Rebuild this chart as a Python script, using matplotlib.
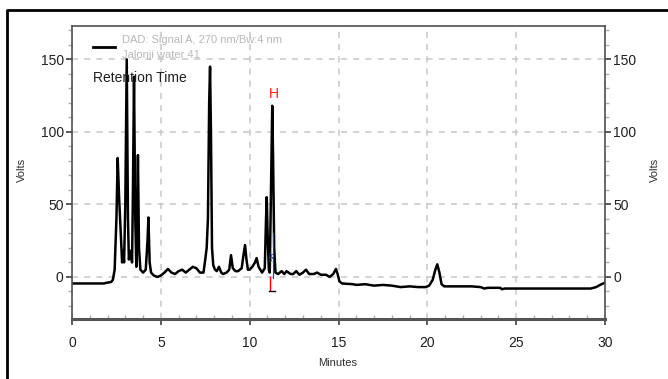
#!/usr/bin/env python
"""
HPLC chromatogram (DAD signal A, 270 nm) redrawn with matplotlib.
"""
import matplotlib
matplotlib.use('Agg')
import matplotlib.pyplot as plt
from matplotlib.lines import Line2D
from matplotlib.ticker import MultipleLocator

plt.rcParams['font.family'] = ['Liberation Sans', 'DejaVu Sans']

# Chromatogram trace (minutes, volts)
minutes = [0.0, 1.8, 1.95, 2.2, 2.3, 2.4, 2.5, 2.57, 2.65, 2.75, 2.82, 2.88,
           2.93, 3.0, 3.08, 3.15, 3.2, 3.3, 3.38, 3.43, 3.49, 3.56, 3.62,
           3.66, 3.71, 3.77, 3.85, 4.0, 4.15, 4.25, 4.3, 4.37, 4.45, 4.6,
           4.8, 5.0, 5.2, 5.4, 5.6, 5.8, 6.0, 6.2, 6.4, 6.6, 6.8, 7.0, 7.2,
           7.4, 7.5, 7.58, 7.65, 7.72, 7.77, 7.82, 7.88, 7.95, 8.05, 8.15,
           8.27, 8.4, 8.5, 8.7, 8.85, 8.95, 9.05, 9.2, 9.35, 9.55, 9.65, 9.74,
           9.82, 9.9, 10.0, 10.15, 10.3, 10.39, 10.5, 10.7, 10.85, 10.92,
           10.96, 11.02, 11.08, 11.13, 11.2, 11.27, 11.32, 11.38, 11.45, 11.6,
           11.8, 11.95, 12.08, 12.3, 12.45, 12.62, 12.8, 13.0, 13.17, 13.35,
           13.6, 13.8, 14.0, 14.3, 14.5, 14.7, 14.86, 14.95, 15.05, 15.2,
           15.8, 16.0, 16.5, 17.0, 17.5, 18.0, 18.5, 19.0, 19.5, 19.9, 20.1,
           20.3, 20.45, 20.56, 20.68, 20.8, 20.95, 21.5, 22.5, 23.0, 23.2,
           23.4, 24.1, 24.2, 24.35, 25.0, 26.0, 27.0, 28.0, 29.2, 29.5, 29.8,
           30.0]
volts = [-4.5, -4.5, -4, -3.5, -2, 5, 40, 82, 55, 28, 10, 18,
         10, 50, 150, 40, 12, 18, 10, 60, 138, 40, 7,
         30, 84, 20, 5, 3, 5, 25, 41, 10, 3, 1,
         0, 1, 3, 5.5, 3, 2, 4, 5, 3, 5, 7, 6, 3,
         3, 12, 20, 40, 120, 145, 100, 20, 8, 5, 4,
         7, 3, 2, 3, 5, 15, 6, 4, 4, 6, 15, 22,
         12, 5, 5, 7, 10, 13, 7, 3, 6, 40,
         55, 25, 5, 3, 60, 118, 80, 20, 3, 2,
         4, 2, 4, 2, 2, 4, 1.5, 3, 5, 2,
         2, 3, 1.5, 1.5, 0, 2, 5.5, 2, -3, -4.5,
         -5, -5.5, -5, -6, -5.5, -6, -7, -6.5, -7, -7, -6,
         -2, 5, 8.7, 3, -5, -6.5, -6.5, -6.5, -7, -8,
         -7.5, -7.5, -8.5, -8, -8, -8, -8, -8, -8, -7, -5,
         -4]

x_ticks = [0, 5, 10, 15, 20, 25, 30]
y_ticks = [0, 50, 100, 150]
legend_lines = ['DAD: Signal A, 270 nm/Bw:4 nm', 'Jalonji water 41']

fig = plt.figure(figsize=(6.68, 3.79), dpi=100)
ax = fig.add_axes([0.1078, 0.1583, 0.7979, 0.7731])

ax.plot(minutes, volts, color='black', lw=1.8, solid_joinstyle='round')

# peak annotation around 11.3 min
ax.text(11.37, 121, 'H', color='#ff2020', fontsize=10, ha='center', va='bottom')
ax.plot([11.14, 11.14], [0, -9], color='red', lw=1.0)
ax.plot([11.1, 11.45], [-9.5, -9.5], color='black', lw=1.0)
ax.plot([11.3, 11.3], [-1, 30], color='#2040c0', lw=0.8)
ax.text(11.3, 14, 'SR', color='#2040c0', fontsize=6, rotation=90,
        ha='center', va='center')

ax.set_xlim(0, 30)
ax.set_ylim(-29, 173)
ax.set_xticks(x_ticks)
ax.set_yticks(y_ticks)
ax.xaxis.set_minor_locator(MultipleLocator(1))
ax.yaxis.set_minor_locator(MultipleLocator(10))
ax.grid(True, which='major', color='#c8c8c8', ls=(0, (4, 4)), lw=1.1)

ax.tick_params(axis='y', which='both', left=True, right=True,
               labelleft=True, labelright=True)
ax.tick_params(axis='both', which='major', length=4, width=1.2,
               color='#404040', labelsize=10, labelcolor='#202020', pad=2)
ax.tick_params(axis='y', which='minor', length=3, width=1, color='#b0b0b0')
ax.tick_params(axis='x', which='minor', direction='in', length=3, width=1,
               color='#b0b0b0')
ax.tick_params(axis='x', which='major', pad=8)

for side in ['left', 'right', 'top']:
    ax.spines[side].set_color('#505050')
    ax.spines[side].set_linewidth(1.2)
ax.spines['bottom'].set_color('#555555')
ax.spines['bottom'].set_linewidth(2.2)

# legend block
ax.plot([0.039, 0.081], [0.928, 0.928], color='black', lw=2,
        transform=ax.transAxes)
ax.text(0.094, 0.952, legend_lines[0], transform=ax.transAxes, fontsize=8,
        color='#b8b8b8', va='center', ha='left')
ax.text(0.094, 0.901, legend_lines[1], transform=ax.transAxes, fontsize=8,
        color='#b8b8b8', va='center', ha='left')
ax.text(0.039, 0.823, 'Retention Time', transform=ax.transAxes, fontsize=10,
        color='#202020', va='center', ha='left')

fig.text(22 / 668, 1 - 170 / 379, 'Volts', rotation=90, fontsize=8,
         color='#303030', ha='center', va='center')
fig.text(655 / 668, 1 - 170 / 379, 'Volts', rotation=90, fontsize=8,
         color='#303030', ha='center', va='center')
fig.text(338 / 668, 1 - 363 / 379, 'Minutes', fontsize=8,
         color='#303030', ha='center', va='center')

# outer frame (left and top edges only are visible)
fig.add_artist(Line2D([7 / 668, 7 / 668, 1.0], [0.0, 1 - 10 / 379, 1 - 10 / 379],
                      transform=fig.transFigure, color='black', lw=2))

fig.savefig('out.png', dpi=100)
